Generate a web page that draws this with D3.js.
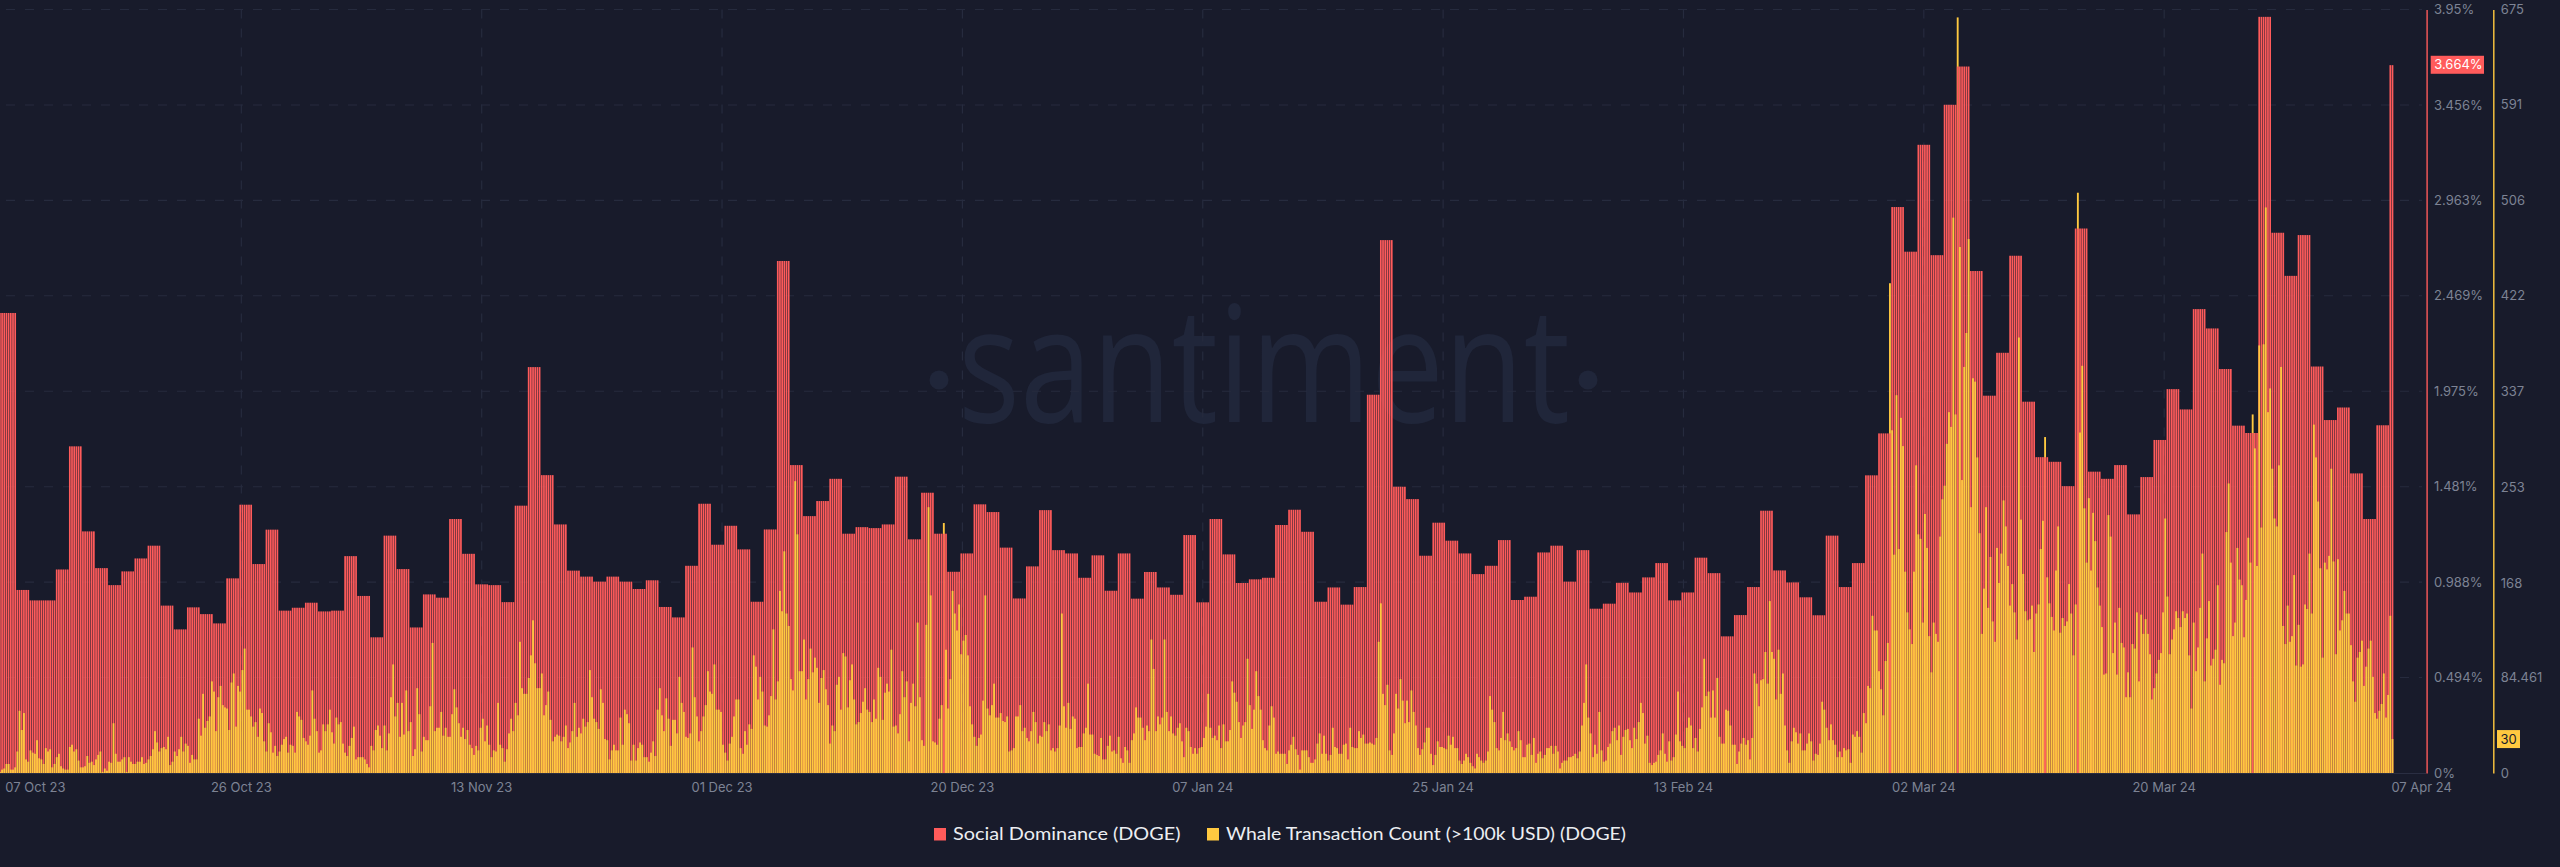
<!DOCTYPE html>
<html>
<head>
<meta charset="utf-8">
<script src="https://cdn.jsdelivr.net/npm/d3@7"></script>
<style>
  html, body { margin: 0; padding: 0; background: #181b2b; }
  svg { display: block; }
  text { font-family: Inter, sans-serif; }
</style>
</head>
<body>
<svg id="chart" width="2560" height="867"></svg>
<script>
// one value per day, 07 Oct 23 to 07 Apr 24
const socialDominance = [
  2.38,.947,.893,.893,1.053,1.69,1.25,1.06,.972,1.043,1.11,1.176,.866,.743,.857,.822,.774,1.007,1.388,1.081,
  1.259,.84,.855,.881,.836,.84,1.122,.916,.702,1.228,1.055,.753,.924,.907,1.314,1.134,.976,.972,.884,1.383,
  2.1,1.541,1.286,1.047,1.016,.99,1.016,.99,.952,.997,.859,.805,1.072,1.393,1.181,1.279,1.157,.886,1.26,2.649,
  1.593,1.329,1.407,1.522,1.238,1.272,1.267,1.286,1.533,1.209,1.45,1.238,1.041,1.136,1.39,1.35,1.166,.903,1.069,1.36,
  1.153,1.136,1.01,1.126,.943,1.136,.902,1.04,.96,.922,1.231,.883,1.314,1.131,.983,1.002,1.01,1.283,1.362,1.248,
  .886,.96,.871,.962,1.957,2.757,1.481,1.417,1.124,1.295,1.202,1.136,1.029,1.072,1.205,.895,.912,1.141,1.176,.99,
  1.153,.85,.876,.984,.934,1.012,1.086,.893,.934,1.114,1.034,.707,.817,.962,1.357,1.048,.986,.909,.816,1.228,
  .962,1.086,1.54,1.757,2.928,2.697,3.25,2.679,3.457,3.655,2.597,1.952,2.174,2.676,1.921,1.634,1.61,1.484,2.817,1.559,
  1.522,1.593,1.338,1.531,1.723,1.986,1.881,2.4,2.3,2.09,1.797,1.759,3.912,2.795,2.572,2.783,2.103,1.826,1.891,1.55,
  1.314,1.799,3.662
];

const whaleOctNov = [
  1,3,4,8,8,3,3,5,19,55,38,53,12,10,20,18,17,29,13,12,
  8,22,19,21,5,8,14,17,6,4,3,3,23,25,19,21,11,5,5,6,
  15,9,10,7,12,16,19,1,4,2,10,9,44,17,10,10,12,14,1,14,
  10,8,8,10,10,14,8,9,12,15,21,37,27,19,22,23,21,32,7,10,
  19,15,21,32,19,26,24,9,16,12,12,48,33,70,40,46,50,81,72,37,
  67,77,60,58,57,38,80,88,41,77,72,91,110,56,56,50,41,45,32,57,
  53,28,19,44,36,18,24,15,19,25,30,32,18,25,24,18,54,50
];
const whaleNovDec = [
  47,31,28,25,33,73,48,37,18,20,43,37,43,56,36,26,49,43,45,26,
  18,15,24,31,41,12,14,14,14,12,8,5,24,20,38,42,33,22,42,20,
  35,67,96,50,62,32,62,34,73,37,45,15,21,75,52,19,32,29,29,59,
  115,37,40,40,54,33,40,32,32,52,74,58,44,32,40,30,38,25,22,16,
  24,20,40,48,28,42,25,14,20,19,62,25,22,10,21,35,48,37,62,51,
  116,75,70,70,84,104,135,97,75,75,88,51,60,72,47,28,32,34,33,28,
  32,42,22,27,37,62,32,40,35,48,41,45,91,67,48,45,39,74,62,30,
  29,12,20,25,20,20,49,25,56,52,44,11,25,11,22,27,25,14,14,10,
  18,28,15,56,75,51,37,66,48,24,47,47,35,85,62,54,32,31,35,111,
  67,50,28,37,50,60,90,72,70,96,56,56,54,25,18,11,26,32,50,65,
  65,22,17,37,25,43,39,104,94,65,85,72,42,41,51,68,127,65,81,161,
  143,196,141,130,83,73,258,211,90,90,118,65,83,110,89,102,93,62
];
const whaleDecJan = [
  84,91,74,60,26,42,37,78,85,56,106,103,58,82,96,65,43,45,53,63,
  75,56,54,45,65,48,93,85,47,71,79,72,109,41,42,35,52,90,67,81,
  28,62,79,59,133,67,29,24,131,235,157,28,27,25,48,60,221,109,57,83,
  161,141,126,149,105,117,122,104,59,43,32,24,31,34,64,157,57,51,60,79,
  49,49,53,46,45,50,19,20,22,50,50,60,37,40,31,28,37,54,45,26,
  33,32,45,37,43,20,22,19,22,42,141,59,40,62,39,50,48,22,23,23,
  35,40,79,34,34,17,16,15,31,12,12,24,33,19,20,17,32,13,9,23,
  20,9,29,35,58,49,49,40,29,42,37,118,92,37,50,43,49,118,54,37,
  50,35,33,40,44,28,14,40,37,23,17,22,17,22,23,31,41,70,40,31,
  33,29,42,22,43,28,28,38,81,71,63,45,31,42,45,101,60,39,56,90,
  68,56,29,22,20,42,59,49,17,19,17,17,17,8,20,25,32,21,16,3,
  20,20,20,14,9,9,12,26,35,17,33,17,11,16,40,23,22,17
];
const whaleJanFeb = [
  17,25,26,12,40,23,22,22,37,31,34,26,26,27,26,25,31,116,150,70,
  60,78,20,16,35,70,57,83,64,44,64,45,73,54,42,22,16,21,27,40,
  40,17,7,16,28,23,23,22,21,33,25,32,22,22,11,8,11,17,14,9,
  6,4,17,14,11,9,11,19,68,56,45,22,20,31,54,29,35,28,23,20,
  22,37,29,14,14,25,26,16,31,9,17,19,13,16,22,22,24,17,24,19,
  4,9,11,11,14,14,15,17,13,19,42,62,96,49,35,14,25,17,54,20,
  10,11,23,26,37,40,29,42,16,32,38,39,29,22,40,30,45,62,53,26,
  33,9,7,9,10,16,20,35,17,10,28,11,14,34,72,28,24,22,40,49,
  42,22,31,19,39,58,101,68,72,49,73,49,84,32,26,26,56,55,42,25,
  25,8,19,26,31,25,29,12,31,88,79,59,82,83,107,79,152,107,101,65,
  109,70,88,42,20,9,28,40,36,26,35,20,20,26,35,28,11,17,16,26,
  63,56,40,29,43,29,25,14,19,14,22,20,21,9,34,32,37,32
];
const whaleMarApr = [
  18,53,44,77,75,139,126,126,90,74,51,99,115,433,303,193,334,198,314,289,
  178,142,127,114,178,272,211,207,133,229,199,121,89,133,123,116,209,242,254,
  291,319,306,491,317,668,465,259,359,389,472,235,349,346,279,212,123,163,235,146,
  191,134,116,199,168,194,241,218,183,148,167,142,118,385,224,176,143,135,136,148,
  107,141,149,198,223,297,173,150,138,126,179,218,124,137,130,134,167,141,104,149,
  513,301,360,234,186,243,179,230,205,164,148,129,87,88,228,209,106,133,87,146,
  115,111,67,89,67,114,110,142,81,140,123,136,123,105,65,75,88,100,106,142,
  225,156,105,118,127,143,137,129,143,137,141,104,57,133,90,111,146,194,81,119,
  152,95,101,109,166,78,100,97,213,256,186,121,133,199,171,166,120,153,208,186,
  317,287,183,378,217,379,500,319,340,269,225,218,272,359,130,114,148,116,121,175,
  95,131,94,96,149,145,194,141,308,279,240,181,102,186,180,192,269,187,105,189,
  126,135,161,141,141,113,81,63,102,107,117,77,94,110,117,85,53,48,55,61,
  88,49,69,139,30
];
// these whale readings sit behind the red bars, only the tip above them shows
const whaleBehind = [432, 865, 896, 936, 951, 1031];

const xLabels = ["07 Oct 23","26 Oct 23","13 Nov 23","01 Dec 23","20 Dec 23","07 Jan 24","25 Jan 24","13 Feb 24","02 Mar 24","20 Mar 24","07 Apr 24"];
const xLabelSlots = [3,111,221,331,441,551,661,771,881,991,1095];
const domTicks = [0,.494,.988,1.481,1.975,2.469,2.963,3.456,3.95];
const whaleTicks = [0,84.461,168,253,337,422,506,591,675];
const domLatest = 3.664;
const whaleLatest = 30;

const RED = "#ff5b5b", YELLOW = "#ffc940", MUTED = "#7d8394", GRID = "#262b3e";

const whale = [...whaleOctNov, ...whaleNovDec, ...whaleDecJan, ...whaleJanFeb, ...whaleMarApr];
// first day holds 8 slots, the rest 6
const dayOfSlot = s => s < 8 ? 0 : 1 + Math.floor((s - 8) / 6);

const svg = d3.select("#chart");
const x = d3.scaleBand().domain(d3.range(whale.length)).range([-1.2, 2393.6]);
const yDom = d3.scaleLinear().domain([0, 3.95]).range([773, 9.5]);
const yWhale = d3.scaleLinear().domain([0, 675]).range([773, 9.5]);
const step = x.bandwidth();

// watermark
const mark = svg.append("g").attr("fill", "#20263a");
mark.append("text").text("santiment")
  .attr("x", 958).attr("y", 421.5)
  .attr("textLength", 612).attr("lengthAdjust", "spacingAndGlyphs")
  .style("font-family", "'Open Sans'").style("font-size", "162px");
mark.selectAll("circle").data([939, 1588]).join("circle")
  .attr("cx", d => d).attr("cy", 380).attr("r", 9.5);

// grid
const grid = svg.append("g").attr("stroke", GRID).attr("stroke-width", 1.2).attr("stroke-dasharray", "9 10").attr("fill", "none");
grid.selectAll(".h").data(domTicks.slice(1)).join("line").attr("class", "h")
  .attr("x1", 6).attr("x2", 2422).attr("y1", d => yDom(d)).attr("y2", d => yDom(d));
grid.selectAll(".v").data(xLabelSlots.slice(1, -1)).join("line").attr("class", "v")
  .attr("x1", d => x(d)).attr("x2", d => x(d)).attr("y1", 9.5).attr("y2", 773);

svg.append("line").attr("x1", 0).attr("x2", 2426).attr("y1", 773.5).attr("y2", 773.5).attr("stroke", "#2a2e42");

function whaleBars(cls, idx, width) {
  svg.append("g").attr("class", cls).selectAll("rect").data(idx).join("rect")
    .attr("x", i => x(i) + (step - width) / 2)
    .attr("width", width)
    .attr("y", i => yWhale(whale[i]))
    .attr("height", i => 773 - yWhale(whale[i]))
    .attr("fill", YELLOW);
}

whaleBars("whale-behind", whaleBehind, step * .85);

svg.append("g").selectAll("rect").data(d3.range(whale.length)).join("rect")
  .attr("x", i => x(i) + step * .11)
  .attr("width", step * .78)
  .attr("y", i => yDom(socialDominance[dayOfSlot(i)]))
  .attr("height", i => 773 - yDom(socialDominance[dayOfSlot(i)]))
  .attr("fill", RED);

whaleBars("whale", d3.range(whale.length).filter(i => !whaleBehind.includes(i)), step * .82);

// x labels
svg.append("g").selectAll("text").data(xLabels).join("text")
  .text(d => d)
  .attr("x", (d, i) => x(xLabelSlots[i]))
  .attr("y", 791.5)
  .attr("text-anchor", (d, i) => i === 0 || i === xLabels.length - 1 ? "start" : "middle")
  .attr("fill", MUTED)
  .style("font-size", "13px");

// right axes
function sideAxis(scale, ticks, xPos, color, fmt) {
  const g = svg.append("g").attr("transform", `translate(${xPos},0)`)
    .call(d3.axisRight(scale).tickValues(ticks).tickSize(0).tickPadding(7.5).tickFormat(fmt));
  g.select(".domain").attr("stroke", color).attr("stroke-width", 1.4);
  g.selectAll("text").attr("fill", MUTED).style("font-size", "13px").style("font-family", "Inter, sans-serif");
}
sideAxis(yDom, domTicks, 2426.6, RED, d => d + "%");
sideAxis(yWhale, whaleTicks, 2493.3, YELLOW, d => d);

// latest value tags
function tag(yPos, xLeft, width, fill, textFill, label) {
  svg.append("rect").attr("x", xLeft).attr("y", yPos - 9).attr("width", width).attr("height", 18).attr("fill", fill);
  svg.append("text").text(label).attr("x", xLeft + 3.5).attr("y", yPos + 4.5)
    .attr("fill", textFill).style("font-size", "13px");
}
tag(yDom(domLatest), 2430.7, 53.3, RED, "#ffffff", domLatest + "%");
tag(yWhale(whaleLatest), 2497, 23, YELLOW, "#181b2b", whaleLatest);

// legend
const legendItems = ["Social Dominance (DOGE)", "Whale Transaction Count (>100k USD) (DOGE)"];
const legendColors = [RED, YELLOW];
const legendX = [934, 1207];
const legendLen = [227.5, 400];
const legend = svg.append("g").selectAll("g").data(legendItems).join("g")
  .attr("transform", (d, i) => `translate(${legendX[i]},828)`);
legend.append("rect").attr("width", 12).attr("height", 12.5).attr("fill", (d, i) => legendColors[i]);
legend.append("text").text(d => d)
  .attr("x", 19).attr("y", 12)
  .attr("textLength", (d, i) => legendLen[i]).attr("lengthAdjust", "spacingAndGlyphs")
  .attr("fill", "#eceef2")
  .style("font-family", "Lato").style("font-size", "18px");
</script>
</body>
</html>
